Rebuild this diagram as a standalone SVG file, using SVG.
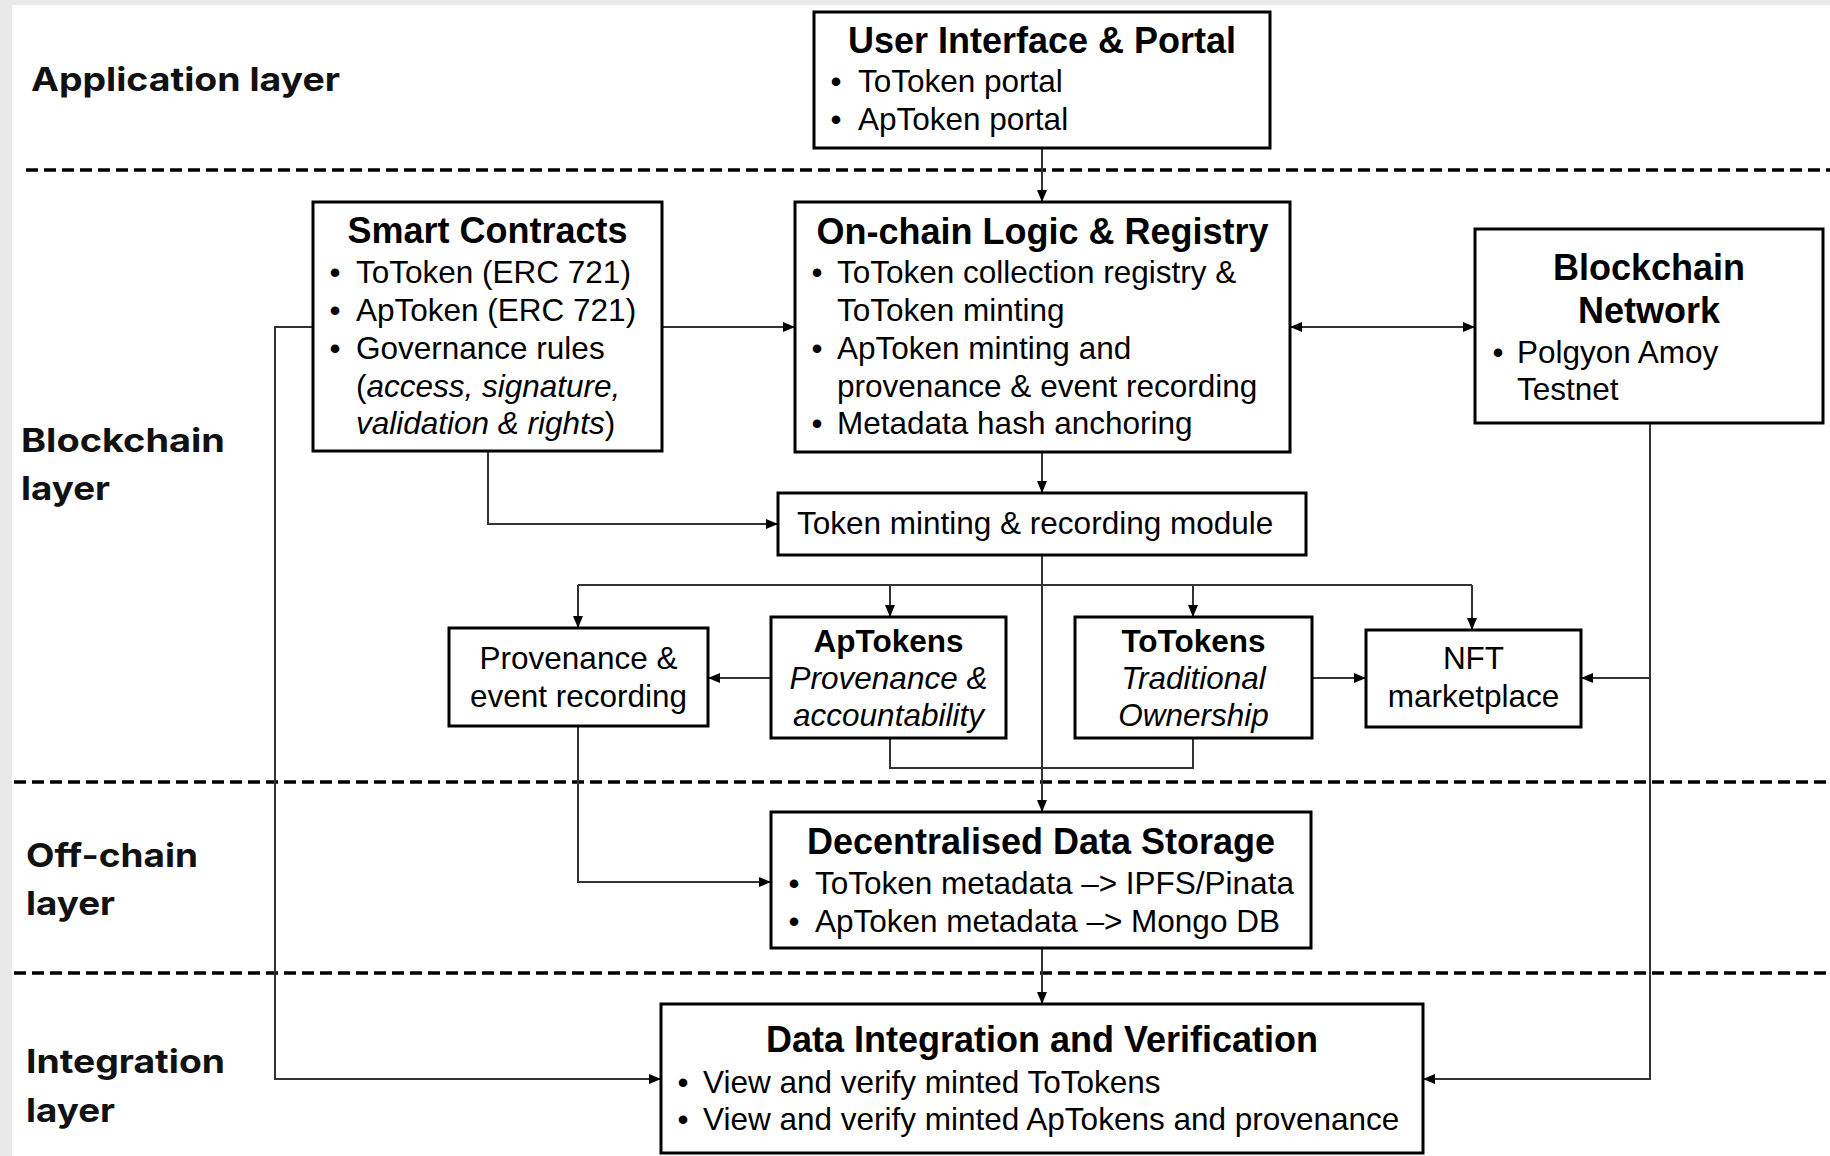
<svg xmlns="http://www.w3.org/2000/svg" width="1830" height="1156" viewBox="0 0 1830 1156">
<defs>
<style>
.bg{fill:#e9e9e9}
.box{fill:#fff;stroke:#000;stroke-width:3}
.t{font-family:"Liberation Sans",Arial,sans-serif;font-size:31.5px;fill:#000}
.h{font-family:"Liberation Sans",Arial,sans-serif;font-size:36px;font-weight:bold;fill:#000}
.b{font-weight:bold}
.i{font-style:italic}
.c{text-anchor:middle}
.lbl{font-family:Inter,"Open Sans",sans-serif;font-size:33px;font-weight:700;fill:#111}
.conn{fill:none;stroke:#333;stroke-width:2}
.dash{fill:none;stroke:#000;stroke-width:3.5;stroke-dasharray:12 6}
</style>
<marker id="ah" viewBox="0 0 12 10" refX="12" refY="5" markerWidth="12" markerHeight="10" orient="auto-start-reverse" markerUnits="userSpaceOnUse">
<path d="M0,0 L12,5 L0,10 z" fill="#000"/>
</marker>
</defs>
<rect class="bg" x="0" y="0" width="1830" height="1156"/>
<rect x="12" y="5" width="1818" height="1151" fill="#fff"/>

<g id="layers">
<line class="dash" x1="26" y1="170" x2="1830" y2="170"/>
<line class="dash" x1="14" y1="782" x2="1830" y2="782"/>
<line class="dash" x1="14" y1="973" x2="1830" y2="973"/>
<text class="lbl" x="31" y="91" textLength="309" lengthAdjust="spacingAndGlyphs">Application layer</text>
<text class="lbl" x="21" y="452" textLength="204" lengthAdjust="spacingAndGlyphs">Blockchain</text>
<text class="lbl" x="21" y="500" textLength="89" lengthAdjust="spacingAndGlyphs">layer</text>
<text class="lbl" x="26" y="867" textLength="172" lengthAdjust="spacingAndGlyphs">Off-chain</text>
<text class="lbl" x="26" y="915" textLength="89" lengthAdjust="spacingAndGlyphs">layer</text>
<text class="lbl" x="26" y="1073" textLength="199" lengthAdjust="spacingAndGlyphs">Integration</text>
<text class="lbl" x="26" y="1122" textLength="89" lengthAdjust="spacingAndGlyphs">layer</text>
</g>

<g id="connectors">
<path class="conn" d="M1042,148 V202" marker-end="url(#ah)"/>
<path class="conn" d="M662,327 H795" marker-end="url(#ah)"/>
<path class="conn" d="M1290,327 H1475" marker-start="url(#ah)" marker-end="url(#ah)"/>
<path class="conn" d="M313,327 H275 V1079 H661" marker-end="url(#ah)"/>
<path class="conn" d="M488,451 V524 H778" marker-end="url(#ah)"/>
<path class="conn" d="M1042,452 V493" marker-end="url(#ah)"/>
<path class="conn" d="M1042,555 V812" marker-end="url(#ah)"/>
<path class="conn" d="M578,585 H1472"/>
<path class="conn" d="M578,585 V628" marker-end="url(#ah)"/>
<path class="conn" d="M890,585 V617" marker-end="url(#ah)"/>
<path class="conn" d="M1193,585 V617" marker-end="url(#ah)"/>
<path class="conn" d="M1472,585 V630" marker-end="url(#ah)"/>
<path class="conn" d="M771,678 H708" marker-end="url(#ah)"/>
<path class="conn" d="M1312,678 H1366" marker-end="url(#ah)"/>
<path class="conn" d="M890,738 V768 H1193 V738"/>
<path class="conn" d="M578,726 V882 H771" marker-end="url(#ah)"/>
<path class="conn" d="M1650,423 V1079 H1423" marker-end="url(#ah)"/>
<path class="conn" d="M1650,678 H1581" marker-end="url(#ah)"/>
<path class="conn" d="M1042,948 V1004" marker-end="url(#ah)"/>
</g>

<g id="ui-portal">
<rect class="box" x="814" y="12" width="456" height="136"/>
<text class="h c" x="1042" y="53">User Interface &amp; Portal</text>
<text class="t c" x="836" y="92">•</text><text class="t" x="858" y="92">ToToken portal</text>
<text class="t c" x="836" y="130">•</text><text class="t" x="858" y="130">ApToken portal</text>
</g>

<g id="smart-contracts">
<rect class="box" x="313" y="202" width="349" height="249"/>
<text class="h c" x="487.5" y="243">Smart Contracts</text>
<text class="t c" x="335" y="283">•</text><text class="t" x="356" y="283">ToToken (ERC 721)</text>
<text class="t c" x="335" y="321">•</text><text class="t" x="356" y="321">ApToken (ERC 721)</text>
<text class="t c" x="335" y="359">•</text><text class="t" x="356" y="359">Governance rules</text>
<text class="t" x="356" y="397">(<tspan class="i">access, signature,</tspan></text>
<text class="t" x="356" y="434"><tspan class="i">validation &amp; rights</tspan>)</text>
</g>

<g id="onchain-logic">
<rect class="box" x="795" y="202" width="495" height="250"/>
<text class="h c" x="1042.5" y="244">On-chain Logic &amp; Registry</text>
<text class="t c" x="817" y="283">•</text><text class="t" x="837" y="283">ToToken collection registry &amp;</text>
<text class="t" x="837" y="321">ToToken minting</text>
<text class="t c" x="817" y="359">•</text><text class="t" x="837" y="359">ApToken minting and</text>
<text class="t" x="837" y="397">provenance &amp; event recording</text>
<text class="t c" x="817" y="434">•</text><text class="t" x="837" y="434">Metadata hash anchoring</text>
</g>

<g id="blockchain-network">
<rect class="box" x="1475" y="229" width="348" height="194"/>
<text class="h c" x="1649" y="280">Blockchain</text>
<text class="h c" x="1649" y="323">Network</text>
<text class="t c" x="1498" y="363">•</text><text class="t" x="1517" y="363">Polgyon Amoy</text>
<text class="t" x="1517" y="400">Testnet</text>
</g>

<g id="token-module">
<rect class="box" x="778" y="493" width="528" height="62"/>
<text class="t" x="797" y="534">Token minting &amp; recording module</text>
</g>

<g id="provenance">
<rect class="box" x="449" y="628" width="259" height="98"/>
<text class="t c" x="578.5" y="669">Provenance &amp;</text>
<text class="t c" x="578.5" y="707">event recording</text>
</g>

<g id="aptokens">
<rect class="box" x="771" y="617" width="235" height="121"/>
<text class="t b c" x="888.5" y="652">ApTokens</text>
<text class="t i c" x="888.5" y="689">Provenance &amp;</text>
<text class="t i c" x="888.5" y="726">accountability</text>
</g>

<g id="totokens">
<rect class="box" x="1075" y="617" width="237" height="121"/>
<text class="t b c" x="1193.5" y="652">ToTokens</text>
<text class="t i c" x="1193.5" y="689">Traditional</text>
<text class="t i c" x="1193.5" y="726">Ownership</text>
</g>

<g id="nft-marketplace">
<rect class="box" x="1366" y="630" width="215" height="97"/>
<text class="t c" x="1473.5" y="669">NFT</text>
<text class="t c" x="1473.5" y="707">marketplace</text>
</g>

<g id="data-storage">
<rect class="box" x="771" y="812" width="540" height="136"/>
<text class="h c" x="1041" y="854">Decentralised Data Storage</text>
<text class="t c" x="794" y="894">•</text><text class="t" x="815" y="894">ToToken metadata –&gt; IPFS/Pinata</text>
<text class="t c" x="794" y="932">•</text><text class="t" x="815" y="932">ApToken metadata –&gt; Mongo DB</text>
</g>

<g id="data-integration">
<rect class="box" x="661" y="1004" width="762" height="149"/>
<text class="h c" x="1042" y="1052">Data Integration and Verification</text>
<text class="t c" x="683" y="1093">•</text><text class="t" x="703" y="1093">View and verify minted ToTokens</text>
<text class="t c" x="683" y="1130">•</text><text class="t" x="703" y="1130">View and verify minted ApTokens and provenance</text>
</g>
</svg>
